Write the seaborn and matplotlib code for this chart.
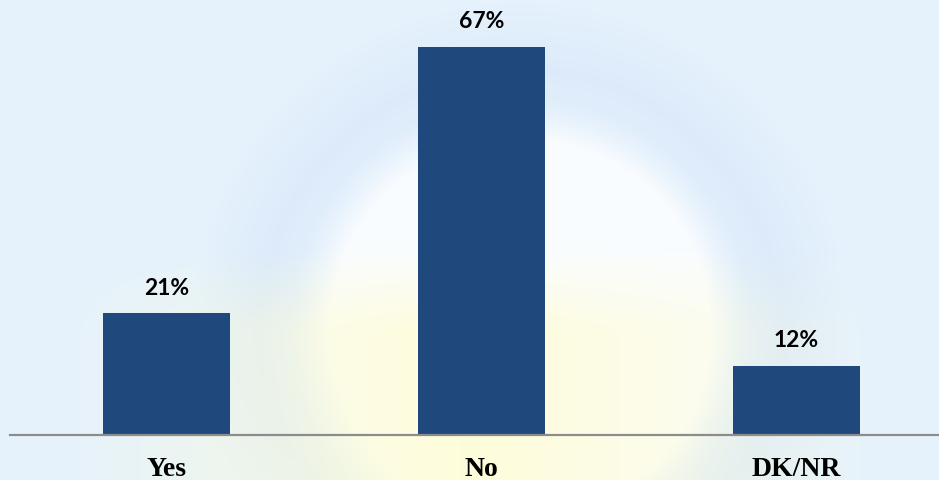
import numpy as np
import pandas as pd
import matplotlib
matplotlib.use("Agg")
import matplotlib.pyplot as plt
import seaborn as sns

categories = ["Yes", "No", "DK/NR"]
values = [21, 67, 12]
value_labels = ["21%", "67%", "12%"]

df = pd.DataFrame({"category": categories, "value": values})

sns.set_theme(style="white")
plt.rcParams["font.family"] = ["DejaVu Sans"]

fig = plt.figure(figsize=(9.39, 4.81), dpi=100)

# soft watermark-like background
bg = fig.add_axes([0, 0, 1, 1], zorder=0)
H, W = 481, 939
yy, xx = np.mgrid[0:H, 0:W]
img = np.ones((H, W, 3))
base = np.array([0.90, 0.95, 0.99])
img[:] = base
r = np.sqrt((xx - 520) ** 2 + (yy - 330) ** 2)
ring = np.clip(1 - np.abs(r - 260) / 70, 0, 1)
inner = np.clip((230 - r) / 40, 0, 1)
white = np.array([1.0, 1.0, 1.0])
img = img * (1 - inner[..., None] * 0.8) + white * inner[..., None] * 0.8
lightblue = np.array([0.84, 0.90, 0.98])
img = img * (1 - ring[..., None] * 0.6) + lightblue * ring[..., None] * 0.6
yband = np.clip((yy - 250) / 80, 0, 1) * np.clip(1 - np.abs(xx - 470) / 420, 0, 1)
yellow = np.array([1.0, 0.99, 0.82])
img = img * (1 - yband[..., None] * 0.8) + yellow * yband[..., None] * 0.8
bg.imshow(img, aspect="auto", extent=[0, 1, 0, 1])
bg.axis("off")

ax = fig.add_axes([10 / 939, 1 - 436 / 481, (939 - 10) / 939, 436 / 481], zorder=1)
ax.patch.set_alpha(0)
sns.barplot(data=df, x="category", y="value", color="#1F497D", width=0.403,
            saturation=1, linewidth=0, edgecolor="none", ax=ax)
ax.set_xlim(-0.497, 2.452)
ax.set_ylim(0, 75.3)
ax.set_xlabel("")
ax.set_ylabel("")
ax.set_yticks([])
for s in ["top", "right", "left"]:
    ax.spines[s].set_visible(False)
ax.spines["bottom"].set_color("#8C8C8C")
ax.spines["bottom"].set_linewidth(1.6)
ax.tick_params(axis="x", length=0, pad=15)
for lbl in ax.get_xticklabels():
    lbl.set_fontfamily("Liberation Serif")
    lbl.set_fontweight("bold")
    lbl.set_fontsize(20)
    lbl.set_color("black")

for i, (v, t) in enumerate(zip(values, value_labels)):
    ax.annotate(t, (i, v), xytext=(0, 19), textcoords="offset points",
                ha="center", va="center", fontsize=16.5, fontweight="bold",
                color="black", family="Lato")

fig.savefig("out.png", dpi=100)
